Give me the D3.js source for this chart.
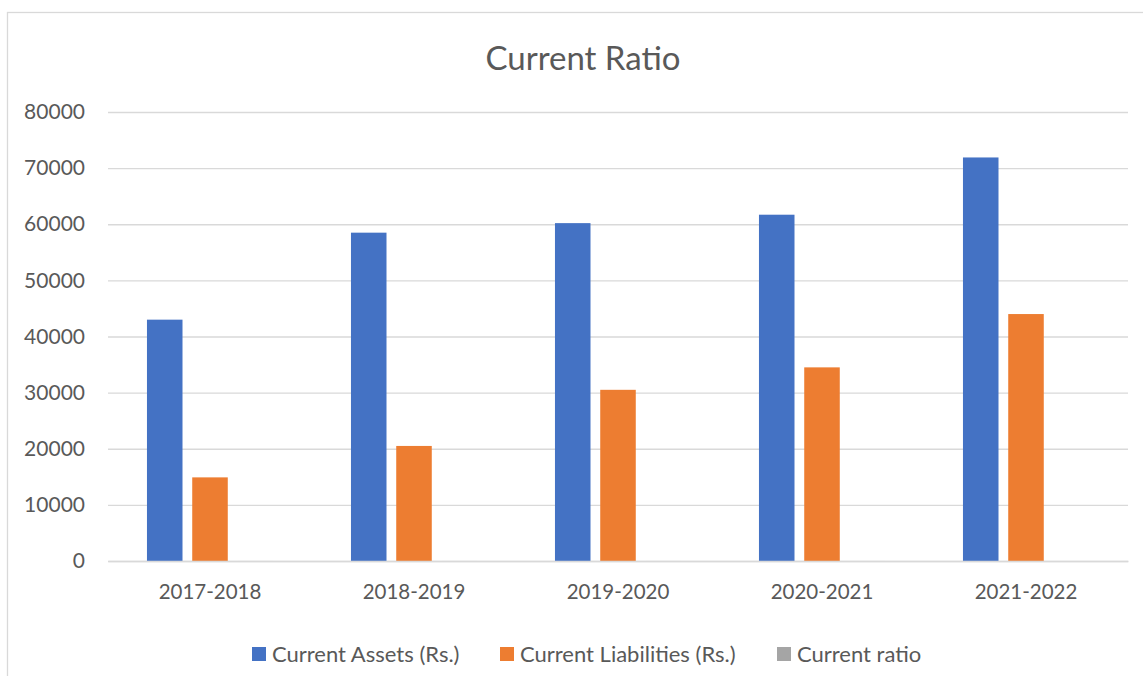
<!DOCTYPE html>
<html>
<head>
<meta charset="utf-8">
<script src="https://cdn.jsdelivr.net/npm/d3@7"></script>
<style>
  body { margin: 0; background: #fff; }
  svg text { font-family: Lato, "Open Sans", sans-serif; fill: #595959; }
</style>
</head>
<body>
<script>
// chart data
const years = ['2017-2018', '2018-2019', '2019-2020', '2020-2021', '2021-2022'];
const seriesNames = ['Current Assets (Rs.)', 'Current Liabilities (Rs.)', 'Current ratio'];
const currentAssets = [43000, 58500, 60200, 61700, 71900];
const currentLiabilities = [14900, 20500, 30500, 34500, 44000];
const currentRatio = [2.89, 2.85, 1.97, 1.79, 1.63];
const yTicks = [0, 10000, 20000, 30000, 40000, 50000, 60000, 70000, 80000];
const colors = ['#4472c4', '#ed7d31', '#a5a5a5'];

const W = 1143, H = 676;
const plotLeft = 108, plotRight = 1128, plotTop = 112, plotBottom = 561;

const svg = d3.select('body').append('svg')
  .attr('width', W)
  .attr('height', H);

// chart border
svg.append('rect')
  .attr('x', 7.5).attr('y', 12.5)
  .attr('width', W + 20).attr('height', H + 20)
  .attr('fill', 'none')
  .attr('stroke', '#d9d9d9')
  .attr('stroke-width', 1.3);

svg.append('text')
  .attr('x', 583).attr('y', 70)
  .attr('text-anchor', 'middle')
  .style('font-size', '33px')
  .text('Current Ratio');

const x0 = d3.scaleBand()
  .domain(years)
  .range([plotLeft, plotRight])
  .paddingInner(0.382)
  .paddingOuter(0.191);

const x1 = d3.scaleBand()
  .domain(seriesNames)
  .range([0, x0.bandwidth()])
  .paddingInner(0.215);

const y = d3.scaleLinear()
  .domain([0, 80000])
  .range([plotBottom, plotTop]);

// gridlines + y labels
const yAxis = svg.append('g')
  .attr('transform', `translate(${plotLeft},0)`)
  .call(d3.axisLeft(y).tickValues(yTicks).tickSize(-(plotRight - plotLeft)).tickPadding(23).tickFormat(d3.format('d')));
yAxis.select('.domain').remove();
yAxis.selectAll('.tick line').attr('stroke', '#d9d9d9').attr('stroke-width', 1.3);
yAxis.selectAll('.tick text').style('font-size', '21px').attr('fill', '#595959');

const rows = years.map((yr, i) => ({
  year: yr,
  values: [currentAssets[i], currentLiabilities[i], currentRatio[i]]
}));

const groups = svg.selectAll('.grp')
  .data(rows)
  .enter().append('g')
  .attr('class', 'grp')
  .attr('transform', d => `translate(${x0(d.year)},0)`);

groups.selectAll('rect')
  .data(d => d.values.map((v, k) => ({ name: seriesNames[k], value: v, k })))
  .enter().append('rect')
  .attr('x', d => x1(d.name))
  .attr('y', d => y(d.value))
  .attr('width', x1.bandwidth())
  .attr('height', d => y(0) - y(d.value))
  .attr('fill', d => colors[d.k]);

// x axis
const xAxis = svg.append('g')
  .attr('transform', `translate(0,${plotBottom})`)
  .call(d3.axisBottom(x0).tickSize(0).tickPadding(23));
xAxis.select('.domain').attr('stroke', '#d9d9d9').attr('stroke-width', 1.3);
xAxis.selectAll('.tick text').style('font-size', '20.5px').attr('fill', '#595959');

// legend
const legendX = [252, 500, 777];
const legend = svg.selectAll('.lg')
  .data(seriesNames)
  .enter().append('g')
  .attr('class', 'lg')
  .attr('transform', (d, i) => `translate(${legendX[i]},654)`);
legend.append('rect')
  .attr('x', 0).attr('y', -7)
  .attr('width', 14).attr('height', 14)
  .attr('fill', (d, i) => colors[i]);
legend.append('text')
  .attr('x', 20).attr('y', 0)
  .attr('dy', '0.35em')
  .style('font-size', '22px')
  .text(d => d);
</script>
</body>
</html>
